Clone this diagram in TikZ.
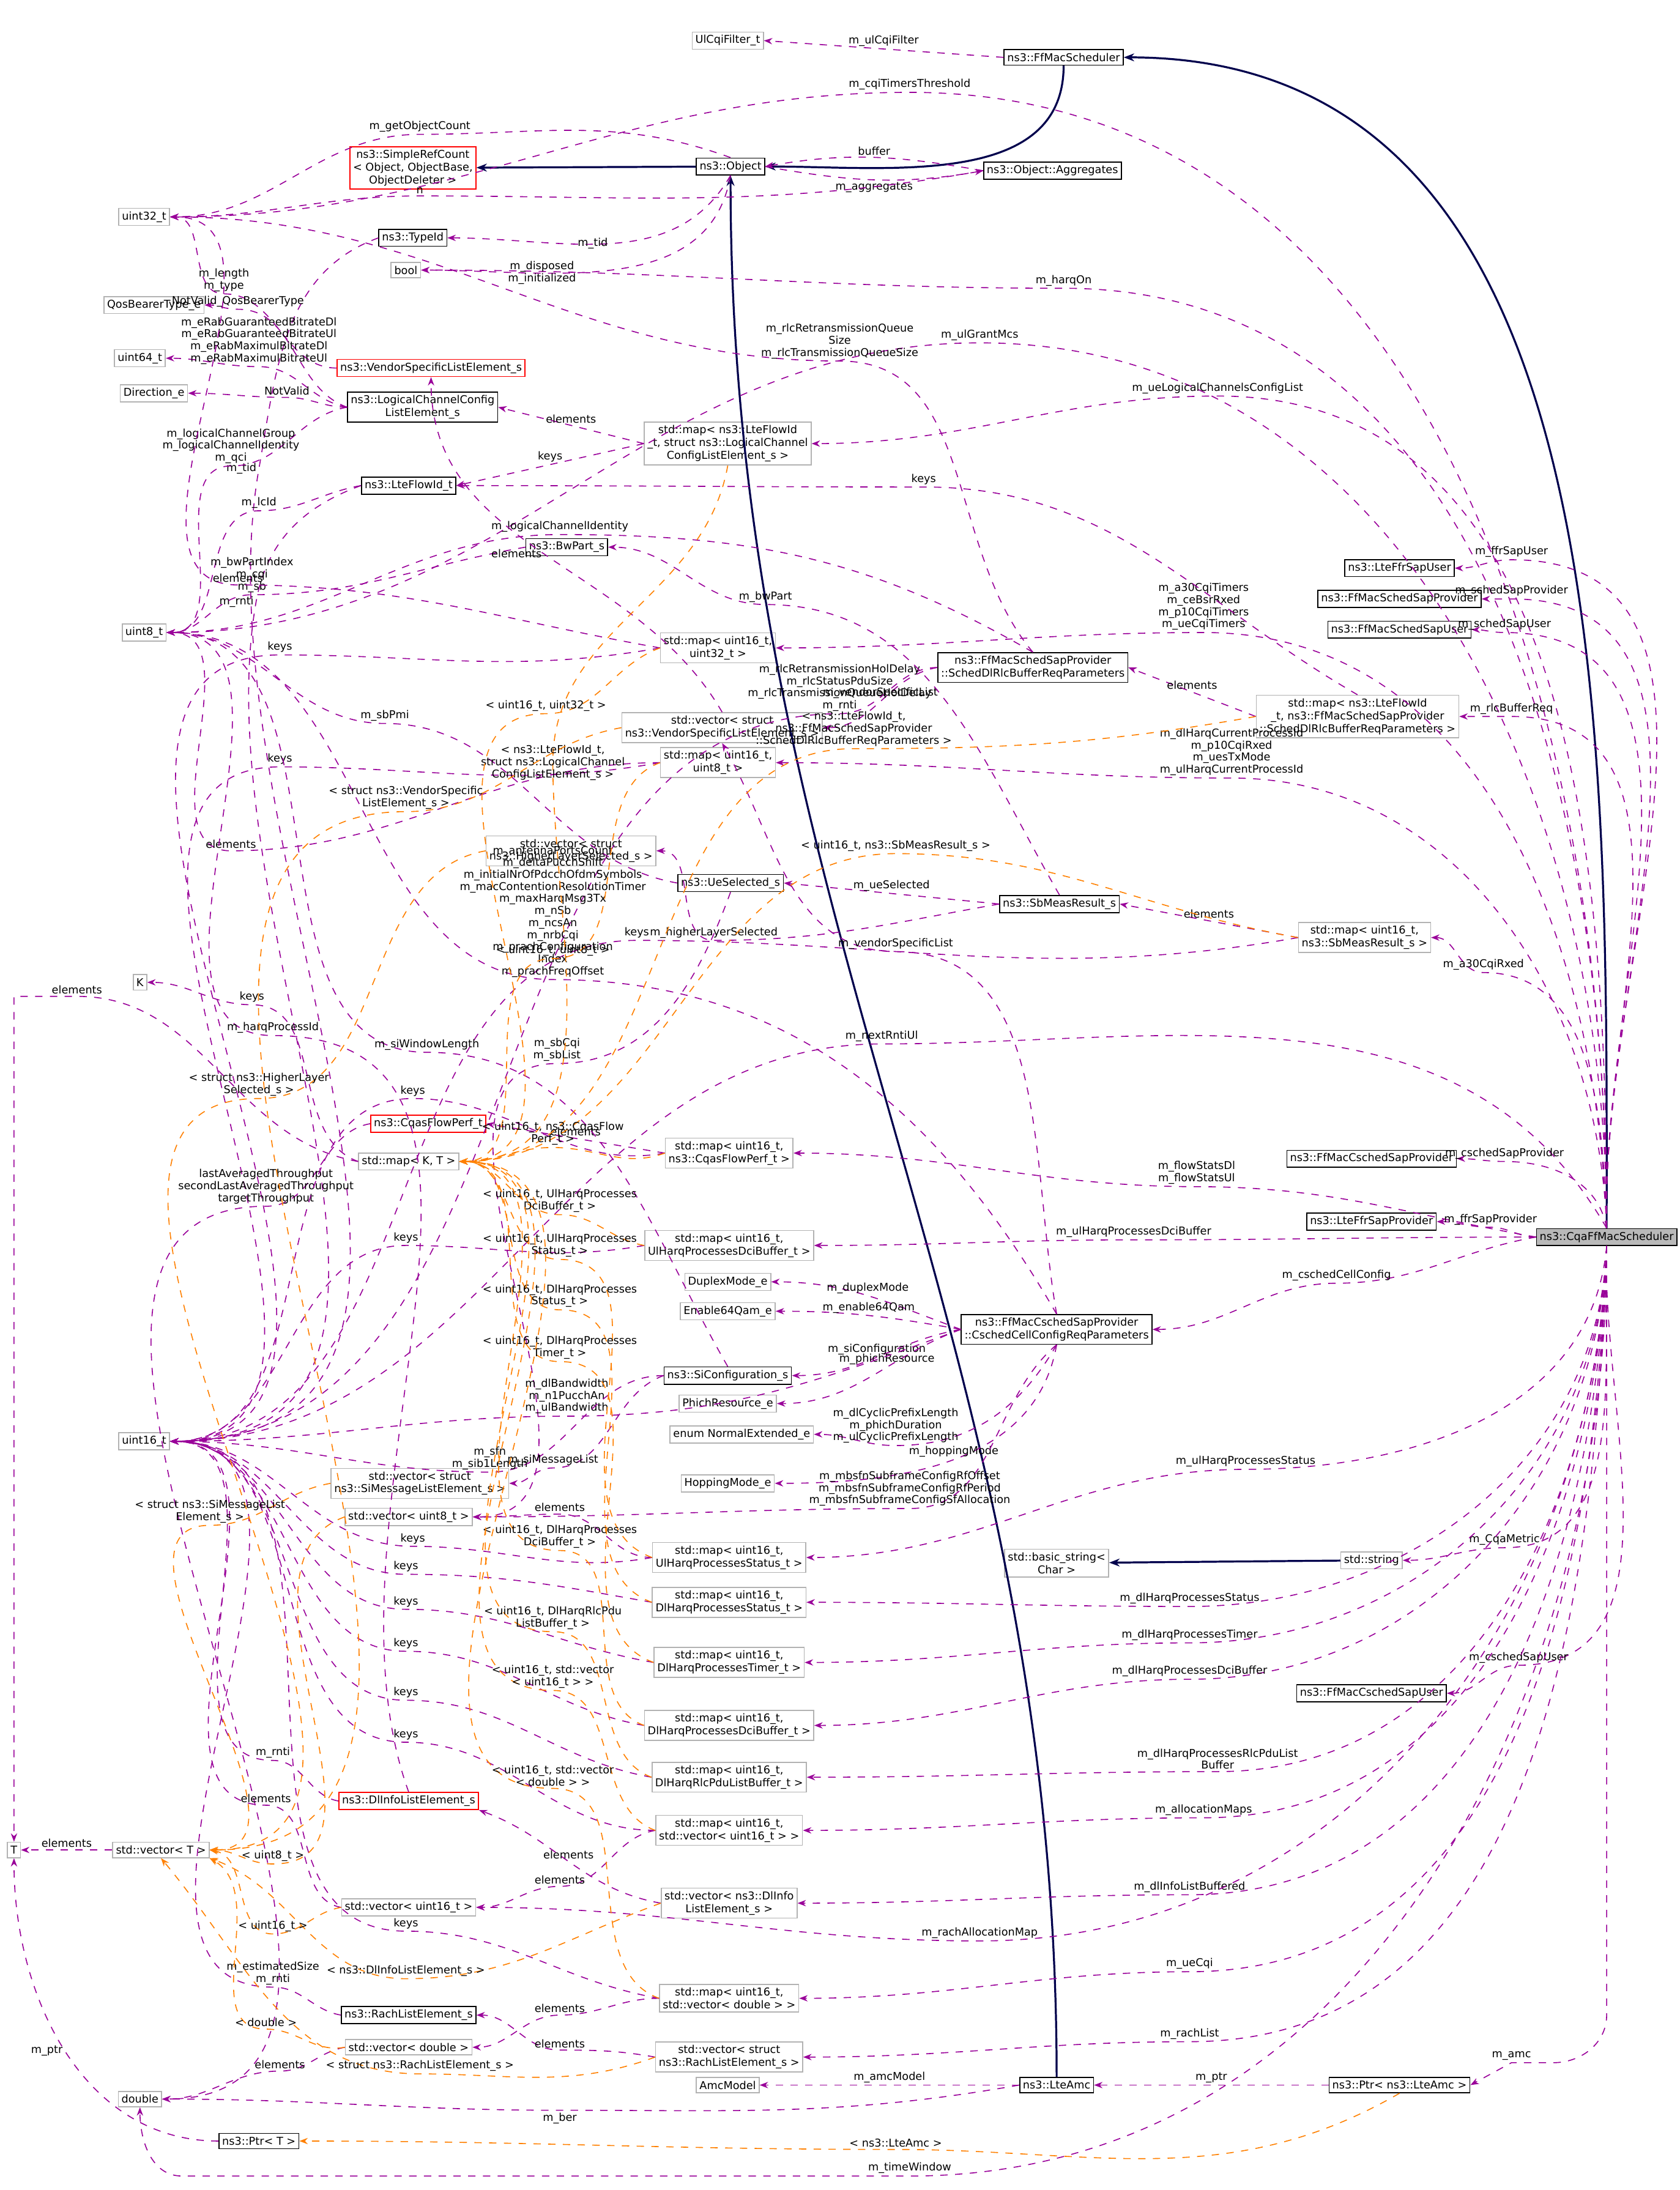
\documentclass[tikz,border=0pt]{standalone}
\usepackage{fontspec}
\setmainfont{DejaVu Sans}
\usetikzlibrary{arrows.meta}
\tikzset{
  box/.style = {rectangle, draw, align=center, inner sep=1.3pt, minimum height=0.22cm, font=\fontsize{4.4}{5.2}\selectfont},
  gnode/.style = {box, draw=gray!60},
  bnode/.style = {box, draw=black},
  rnode/.style = {box, draw=red},
  cnode/.style = {box, draw=black, fill=gray!55},
  dep/.style = {draw=violet!80!magenta, dashed, -{Stealth[length=1.2mm]}},
  inh/.style = {draw=blue!30!black, thick, -{Stealth[length=1.5mm]}},
  tmpl/.style = {draw=orange, dashed, -{Stealth[length=1.2mm]}},
  lbl/.style = {align=center, inner sep=0.8pt, font=\fontsize{4.4}{4.9}\selectfont, text=black},
}
\begin{document}
\begin{tikzpicture}[x=0.2mm, y=-0.2mm]
\useasboundingbox (0,0) rectangle (1200,1565);
% type nodes
\node [gnode] (ulcqi) at (520,29) {UlCqiFilter\_t};
\node [bnode] (ffmac) at (760,41) {ns3::FfMacScheduler};
\node [rnode] (srefc) at (295,120) {ns3::SimpleRefCount\\< Object, ObjectBase,\\ObjectDeleter >};
\node [bnode] (obj) at (522,119) {ns3::Object};
\node [bnode] (aggr) at (752,122) {ns3::Object::Aggregates};
\node [gnode] (u32) at (103,155) {uint32\_t};
\node [bnode] (tid) at (295,170) {ns3::TypeId};
\node [gnode] (bool) at (290,193) {bool};
\node [gnode] (qos) at (110,218) {QosBearerType\_e};
\node [gnode] (u64) at (100,256) {uint64\_t};
\node [gnode] (dir) at (110,281) {Direction\_e};
\node [rnode] (vsle) at (308,263) {ns3::VendorSpecificListElement\_s};
\node [bnode] (lcc) at (302,291) {ns3::LogicalChannelConfig\\ListElement\_s};
\node [gnode] (maplcc) at (520,317) {std::map< ns3::LteFlowId\\\_t, struct ns3::LogicalChannel\\ConfigListElement\_s >};
\node [bnode] (flow) at (292,347) {ns3::LteFlowId\_t};
\node [bnode] (bwp) at (405,391) {ns3::BwPart\_s};
\node [gnode] (u8) at (103,452) {uint8\_t};
\node [gnode] (m1632) at (513,463) {std::map< uint16\_t,\\uint32\_t >};
\node [bnode] (rlcreq) at (738,477) {ns3::FfMacSchedSapProvider\\::SchedDlRlcBufferReqParameters};
\node [gnode] (maprlc) at (970,512) {std::map< ns3::LteFlowId\\\_t, ns3::FfMacSchedSapProvider\\::SchedDlRlcBufferReqParameters >};
\node [gnode] (vvsle) at (516,520) {std::vector< struct\\ns3::VendorSpecificListElement\_s >};
\node [gnode] (m168) at (513,545) {std::map< uint16\_t,\\uint8\_t >};
\node [gnode] (vhls) at (408,608) {std::vector< struct\\ns3::HigherLayerSelected\_s >};
\node [bnode] (uesel) at (522,631) {ns3::UeSelected\_s};
\node [bnode] (sbm) at (757,646) {ns3::SbMeasResult\_s};
\node [gnode] (mapsb) at (975,670) {std::map< uint16\_t,\\ns3::SbMeasResult\_s >};
\node [bnode] (ffrusr) at (1000,406) {ns3::LteFfrSapUser};
\node [bnode] (sprov) at (1000,428) {ns3::FfMacSchedSapProvider};
\node [bnode] (suser) at (1000,450) {ns3::FfMacSchedSapUser};
\node [gnode] (K) at (100,702) {K};
\node [rnode] (cqas) at (306,803) {ns3::CqasFlowPerf\_t};
\node [gnode] (mapcqas) at (521,824) {std::map< uint16\_t,\\ns3::CqasFlowPerf\_t >};
\node [gnode] (mapKT) at (292,830) {std::map< K, T >};
\node [bnode] (cprov) at (980,828) {ns3::FfMacCschedSapProvider};
\node [bnode] (ffrprov) at (980,873) {ns3::LteFfrSapProvider};
\node [cnode] (cqa) at (1148,884) {ns3::CqaFfMacScheduler};
\node [gnode] (mulhdci) at (521,890) {std::map< uint16\_t,\\UlHarqProcessesDciBuffer\_t >};
\node [gnode] (dupl) at (520,916) {DuplexMode\_e};
\node [gnode] (e64) at (520,937) {Enable64Qam\_e};
\node [bnode] (cell) at (755,950) {ns3::FfMacCschedSapProvider\\::CschedCellConfigReqParameters};
\node [bnode] (sicfg) at (520,983) {ns3::SiConfiguration\_s};
\node [gnode] (phich) at (520,1003) {PhichResource\_e};
\node [gnode] (u16) at (103,1030) {uint16\_t};
\node [gnode] (normext) at (530,1025) {enum NormalExtended\_e};
\node [gnode] (vsim) at (300,1060) {std::vector< struct\\ns3::SiMessageListElement\_s >};
\node [gnode] (vu8) at (292,1084) {std::vector< uint8\_t >};
\node [gnode] (hop) at (520,1060) {HoppingMode\_e};
\node [gnode] (mulhst) at (521,1113) {std::map< uint16\_t,\\UlHarqProcessesStatus\_t >};
\node [gnode] (bstr) at (755,1117) {std::basic\_string<\\Char >};
\node [gnode] (str) at (980,1115) {std::string};
\node [gnode] (mdlhst) at (521,1145) {std::map< uint16\_t,\\DlHarqProcessesStatus\_t >};
\node [gnode] (mdlhtm) at (521,1188) {std::map< uint16\_t,\\DlHarqProcessesTimer\_t >};
\node [bnode] (cuser) at (980,1210) {ns3::FfMacCschedSapUser};
\node [gnode] (mdlhdci) at (521,1233) {std::map< uint16\_t,\\DlHarqProcessesDciBuffer\_t >};
\node [gnode] (mdlrlc) at (521,1270) {std::map< uint16\_t,\\DlHarqRlcPduListBuffer\_t >};
\node [rnode] (dlinfo) at (292,1287) {ns3::DlInfoListElement\_s};
\node [gnode] (T) at (10,1322) {T};
\node [gnode] (vecT) at (115,1322) {std::vector< T >};
\node [gnode] (mv16) at (521,1308) {std::map< uint16\_t,\\std::vector< uint16\_t > >};
\node [gnode] (vdlinfo) at (521,1360) {std::vector< ns3::DlInfo\\ListElement\_s >};
\node [gnode] (vu16) at (292,1363) {std::vector< uint16\_t >};
\node [gnode] (mvdbl) at (521,1428) {std::map< uint16\_t,\\std::vector< double > >};
\node [bnode] (rach) at (292,1440) {ns3::RachListElement\_s};
\node [gnode] (vdbl) at (292,1463) {std::vector< double >};
\node [gnode] (vrach) at (521,1470) {std::vector< struct\\ns3::RachListElement\_s >};
\node [gnode] (dbl) at (100,1500) {double};
\node [gnode] (amcm) at (520,1490) {AmcModel};
\node [bnode] (amc) at (755,1490) {ns3::LteAmc};
\node [bnode] (pamc) at (1000,1490) {ns3::Ptr< ns3::LteAmc >};
\node [bnode] (ptrT) at (185,1530) {ns3::Ptr< T >};
% inheritance
\draw [inh] (cqa.north) to[out=90,in=0] (ffmac.east);
\draw [inh] (ffmac.south) to[out=-90,in=0] (obj.east);
\draw [inh] (obj) -- (srefc);
\draw [inh] (amc.north) to[out=90,in=-90] (obj.south);
\draw [inh] (str) -- (bstr);
% members of the scheduler, upper part
\draw [dep] (cqa.north) to[out=90,in=0] (650,66) node[lbl,above]{m\_cqiTimersThreshold} to[out=180,in=0] (u32.east);
\draw [dep] (cqa.north) to[out=90,in=0] (760,206) node[lbl,above]{m\_harqOn} to[out=180,in=0] (bool.east);
\draw [dep] (cqa.north) to[out=90,in=0] (700,245) node[lbl,above]{m\_ulGrantMcs} to[out=180,in=0] (u8.east);
\draw [dep] (cqa.north) to[out=90,in=0] (870,283) node[lbl,above]{m\_ueLogicalChannelsConfigList} to[out=180,in=0] (maplcc.east);
\draw [dep] (cqa.north) to[out=92,in=0] (1080,400) node[lbl,above]{m\_ffrSapUser} to[out=180,in=0] (ffrusr.east);
\draw [dep] (cqa.north) to[out=92,in=0] (1080,428) node[lbl,above]{m\_schedSapProvider} to[out=180,in=0] (sprov.east);
\draw [dep] (cqa.north) to[out=92,in=0] (1075,452) node[lbl,above]{m\_schedSapUser} to[out=180,in=0] (suser.east);
\draw [dep] (cqa.north) to[out=92,in=0] (860,452) node[lbl,above]{m\_a30CqiTimers\\m\_ceBsrRxed\\m\_p10CqiTimers\\m\_ueCqiTimers} to[out=180,in=0] (m1632.east);
\draw [dep] (cqa.north) to[out=92,in=0] (1080,512) node[lbl,above]{m\_rlcBufferReq} to[out=180,in=0] (maprlc.east);
\draw [dep] (cqa.north) to[out=92,in=0] (880,556) node[lbl,above]{m\_dlHarqCurrentProcessId\\m\_p10CqiRxed\\m\_uesTxMode\\m\_ulHarqCurrentProcessId} to[out=180,in=0] (m168.east);
\draw [dep] (cqa.north) to[out=92,in=0] (1060,695) node[lbl,above]{m\_a30CqiRxed} to[out=180,in=0] (mapsb.east);
\draw [dep] (cqa.north) to[out=120,in=0] (630,746) node[lbl,above]{m\_nextRntiUl} to[out=180,in=0] (u16.east);
\draw [dep] (cqa.west) to[out=170,in=0] (855,848) node[lbl,above]{m\_flowStatsDl\\m\_flowStatsUl} to[out=180,in=0] (mapcqas.east);
\draw [dep] (cqa.north) to[out=100,in=0] (1075,830) node[lbl,above]{m\_cschedSapProvider} to[out=180,in=0] (cprov.east);
\draw [dep] (cqa.west) to[out=180,in=0] (1065,877) node[lbl,above]{m\_ffrSapProvider} to[out=180,in=0] (ffrprov.east);
\draw [dep] (cqa.west) to[out=180,in=0] (810,886) node[lbl,above]{m\_ulHarqProcessesDciBuffer} to[out=180,in=0] (mulhdci.east);
\draw [dep] (cqa.west) to[out=190,in=0] (955,917) node[lbl,above]{m\_cschedCellConfig} to[out=180,in=0] (cell.east);
% members of the scheduler, lower part
\draw [dep] (cqa.south) to[out=-95,in=0] (890,1050) node[lbl,above]{m\_ulHarqProcessesStatus} to[out=180,in=0] (mulhst.east);
\draw [dep] (cqa.south) to[out=-92,in=0] (1075,1106) node[lbl,above]{m\_CqaMetric} to[out=180,in=0] (str.east);
\draw [dep] (cqa.south) to[out=-92,in=0] (850,1148) node[lbl,above]{m\_dlHarqProcessesStatus} to[out=180,in=0] (mdlhst.east);
\draw [dep] (cqa.south) to[out=-92,in=0] (850,1174) node[lbl,above]{m\_dlHarqProcessesTimer} to[out=180,in=0] (mdlhtm.east);
\draw [dep] (cqa.south) to[out=-92,in=0] (1085,1190) node[lbl,above]{m\_cschedSapUser} to[out=180,in=0] (cuser.east);
\draw [dep] (cqa.south) to[out=-92,in=0] (850,1200) node[lbl,above]{m\_dlHarqProcessesDciBuffer} to[out=180,in=0] (mdlhdci.east);
\draw [dep] (cqa.south) to[out=-92,in=0] (870,1266) node[lbl,above]{m\_dlHarqProcessesRlcPduList\\Buffer} to[out=180,in=0] (mdlrlc.east);
\draw [dep] (cqa.south) to[out=-92,in=0] (860,1299) node[lbl,above]{m\_allocationMaps} to[out=180,in=0] (mv16.east);
\draw [dep] (cqa.south) to[out=-92,in=0] (850,1354) node[lbl,above]{m\_dlInfoListBuffered} to[out=180,in=0] (vdlinfo.east);
\draw [dep] (cqa.south) to[out=-92,in=0] (700,1387) node[lbl,above]{m\_rachAllocationMap} to[out=180,in=0] (vu16.east);
\draw [dep] (cqa.south) to[out=-92,in=0] (850,1409) node[lbl,above]{m\_ueCqi} to[out=180,in=0] (mvdbl.east);
\draw [dep] (cqa.south) to[out=-92,in=0] (850,1459) node[lbl,above]{m\_rachList} to[out=180,in=0] (vrach.east);
\draw [dep] (cqa.south) -- (1148,1440) to[out=-90,in=0] (1110,1474) -- (1080,1474) node[lbl,above]{m\_amc} -- (pamc.east);
\draw [dep] (cqa.south) to[out=-90,in=0] (650,1555) node[lbl,above]{m\_timeWindow} -- (130,1555) to[out=180,in=-90] (dbl.south);
% base classes and their members
\draw [dep] (ffmac.west) -- node[lbl,above]{m\_ulCqiFilter} (ulcqi.east);
\draw [dep] (obj.north) to[out=160,in=0] (300,96) node[lbl,above]{m\_getObjectCount} to[out=180,in=0] (u32.east);
\draw [dep] (obj.east) to[out=-10,in=190] node[lbl,pos=0.5,below]{m\_aggregates} (aggr.west);
\draw [dep] (aggr.west) to[out=170,in=10] node[lbl,pos=0.5,above]{buffer} (obj.east);
\draw [dep] (aggr.west) to[out=190,in=0] (300,140) node[lbl,above]{n} to[out=180,in=0] (u32.east);
\draw [dep] (obj.south) to[out=-120,in=0] node[lbl,pos=0.5,left]{m\_tid} (tid.east);
\draw [dep] (obj.south) to[out=-100,in=0] node[lbl,pos=0.6,left]{m\_disposed\\m\_initialized} (bool.east);
\draw [dep] (tid.west) to[out=200,in=80] (185,335) node[lbl,left]{m\_tid} to[out=-100,in=0] (u16.east);
\draw [dep] (vsle.west) to[out=180,in=0] (160,210) node[lbl,above]{m\_length\\m\_type} to[out=180,in=0] (u32.east);
\draw [dep] (lcc.west) to[out=160,in=0] (170,221) node[lbl,above]{NotValid\_QosBearerType} to[out=180,in=0] (qos.east);
\draw [dep] (lcc.west) to[out=170,in=0] (185,262) node[lbl,above]{m\_eRabGuaranteedBitrateDl\\m\_eRabGuaranteedBitrateUl\\m\_eRabMaximulBitrateDl\\m\_eRabMaximulBitrateUl} to[out=180,in=0] (u64.east);
\draw [dep] (lcc.west) to[out=180,in=0] (205,284) node[lbl,above]{NotValid} to[out=180,in=0] (dir.east);
\draw [dep] (lcc.west) to[out=190,in=0] (165,333) node[lbl,above]{m\_logicalChannelGroup\\m\_logicalChannelIdentity\\m\_qci} to[out=180,in=0] (u8.east);
\draw [dep] (maplcc.west) -- node[lbl,above]{elements} (lcc.east);
\draw [dep] (maplcc.west) -- node[lbl,above]{keys} (flow.east);
\draw [dep] (flow.west) to[out=190,in=0] (185,365) node[lbl,above]{m\_lcId} to[out=180,in=0] (u8.east);
\draw [dep] (flow.west) to[out=200,in=80] (183,430) node[lbl,left]{m\_rnti} to[out=-100,in=0] (u16.east);
\draw [dep] (bwp.west) to[out=190,in=0] (180,425) node[lbl,above]{m\_bwPartIndex\\m\_cqi\\m\_sb} to[out=180,in=0] (u8.east);
\draw [dep] (rlcreq.north) to[out=130,in=0] (600,258) node[lbl,above]{m\_rlcRetransmissionQueue\\Size\\m\_rlcTransmissionQueueSize} to[out=180,in=0] (u32.east);
\draw [dep] (rlcreq.west) to[out=180,in=0] (600,510) node[lbl,above]{m\_rlcRetransmissionHolDelay\\m\_rlcStatusPduSize\\m\_rlcTransmissionQueueHolDelay\\m\_rnti} to[out=180,in=0] (u16.east);
\draw [dep] (rlcreq.north) to[out=150,in=0] (400,382) node[lbl,above]{m\_logicalChannelIdentity} to[out=180,in=0] (u8.east);
\draw [dep] (rlcreq.west) to[out=190,in=0] node[lbl,pos=0.5,above]{m\_vendorSpecificList} (vvsle.east);
\draw [dep] (maprlc.west) -- node[lbl,above]{elements} (rlcreq.east);
\draw [dep] (maprlc.north) to[out=150,in=0] (660,348) node[lbl,above]{keys} to[out=180,in=0] (flow.east);
\draw [dep] (m1632.west) to[out=170,in=0] (170,418) node[lbl,above]{elements} to[out=180,in=0] (u32.east);
\draw [dep] (m1632.west) to[out=190,in=0] (200,468) node[lbl,above]{keys} to[out=180,in=0] (u16.east);
\draw [dep] (vvsle.north) to[out=120,in=-90] node[lbl,pos=0.5,left]{elements} (vsle.south);
\draw [dep] (m168.west) to[out=180,in=0] (165,608) node[lbl,above]{elements} to[out=180,in=0] (u8.east);
\draw [dep] (m168.west) to[out=190,in=0] (200,548) node[lbl,above]{keys} to[out=180,in=0] (u16.east);
\draw [dep] (uesel.west) to[out=170,in=0] (275,517) node[lbl,above]{m\_sbPmi} to[out=180,in=0] (u8.east);
\draw [dep] (uesel.south) to[out=-110,in=0] (398,760) node[lbl,above]{m\_sbCqi\\m\_sbList} to[out=180,in=0] (vu8.east);
\draw [dep] (sbm.west) -- node[lbl,above]{m\_ueSelected} (uesel.east);
\draw [dep] (sbm.north) to[out=120,in=0] (547,432) node[lbl,above]{m\_bwPart} to[out=180,in=0] (bwp.east);
\draw [dep] (sbm.west) to[out=190,in=0] (510,672) node[lbl,above]{m\_higherLayerSelected} to[out=180,in=0] (vhls.east);
\draw [dep] (mapsb.west) -- node[lbl,above]{elements} (sbm.east);
\draw [dep] (mapsb.west) to[out=190,in=0] (455,672) node[lbl,above]{keys} to[out=180,in=0] (u16.east);
\draw [dep] (cqas.west) to[out=190,in=0] (190,862) node[lbl,above]{lastAveragedThroughput\\secondLastAveragedThroughput\\targetThroughput} to[out=180,in=0] (dbl.east);
\draw [dep] (mapcqas.west) -- node[lbl,above]{elements} (cqas.east);
\draw [dep] (mapcqas.west) to[out=190,in=0] (295,785) node[lbl,above]{keys} to[out=180,in=0] (u16.east);
\draw [dep] (mapKT.west) to[out=160,in=0] (180,718) node[lbl,above]{keys} to[out=180,in=0] (K.east);
\draw [dep] (mapKT.west) to[out=170,in=0] (55,712) node[lbl,above]{elements} -- (10,712) -- (T.north);
\draw [dep] (vecT.west) -- node[lbl,above]{elements} (T.east);
\draw [dep] (ptrT.west) to[out=180,in=-90] node[lbl,pos=0.5,left]{m\_ptr} (T.south);
% cell configuration
\draw [dep] (cell.west) to[out=160,in=0] node[lbl,pos=0.5,above]{m\_duplexMode} (dupl.east);
\draw [dep] (cell.west) to[out=170,in=0] node[lbl,pos=0.5,above]{m\_enable64Qam} (e64.east);
\draw [dep] (cell.west) to[out=190,in=0] node[lbl,pos=0.5,above]{m\_siConfiguration} (sicfg.east);
\draw [dep] (cell.west) to[out=200,in=0] node[lbl,pos=0.4,above]{m\_phichResource} (phich.east);
\draw [dep] (cell.south) to[out=-120,in=0] (640,1033) node[lbl,above]{m\_dlCyclicPrefixLength\\m\_phichDuration\\m\_ulCyclicPrefixLength} to[out=180,in=0] (normext.east);
\draw [dep] (cell.south) to[out=-100,in=0] node[lbl,pos=0.5,above]{m\_hoppingMode} (hop.east);
\draw [dep] (cell.north) to[out=120,in=0] (395,700) node[lbl,above]{m\_antennaPortsCount\\m\_deltaPucchShift\\m\_initialNrOfPdcchOfdmSymbols\\m\_macContentionResolutionTimer\\m\_maxHarqMsg3Tx\\m\_nSb\\m\_ncsAn\\m\_nrbCqi\\m\_prachConfiguration\\Index\\m\_prachFreqOffset} to[out=180,in=0] (u8.east);
\draw [dep] (cell.west) to[out=200,in=0] (405,1012) node[lbl,above]{m\_dlBandwidth\\m\_n1PucchAn\\m\_ulBandwidth} to[out=180,in=0] (u16.east);
\draw [dep] (cell.south) to[out=-140,in=0] (650,1078) node[lbl,above]{m\_mbsfnSubframeConfigRfOffset\\m\_mbsfnSubframeConfigRfPeriod\\m\_mbsfnSubframeConfigSfAllocation} to[out=180,in=0] (vu8.east);
\draw [dep] (cell.north) to[out=100,in=0] (640,680) node[lbl,above]{m\_vendorSpecificList} to[out=180,in=-60] (vvsle.south);
\draw [dep] (sicfg.west) to[out=180,in=0] (350,1052) node[lbl,above]{m\_sfn\\m\_sib1Length} to[out=180,in=0] (u16.east);
\draw [dep] (sicfg.north) to[out=120,in=0] (305,752) node[lbl,above]{m\_siWindowLength} to[out=180,in=0] (u8.east);
\draw [dep] (sicfg.west) to[out=200,in=0] (395,1049) node[lbl,above]{m\_siMessageList} to[out=180,in=0] (vsim.east);
% harq maps and vectors
\draw [dep] (mulhdci.west) to[out=190,in=0] (290,890) node[lbl,above]{keys} to[out=180,in=0] (u16.east);
\draw [dep] (mulhst.west) to[out=180,in=0] (400,1082) node[lbl,above]{elements} to[out=180,in=0] (vu8.east);
\draw [dep] (mulhst.west) to[out=190,in=0] (295,1105) node[lbl,above]{keys} to[out=180,in=0] (u16.east);
\draw [dep] (mdlhst.west) to[out=170,in=0] (290,1125) node[lbl,above]{keys} to[out=180,in=0] (u16.east);
\draw [dep] (mdlhtm.west) to[out=170,in=0] (290,1150) node[lbl,above]{keys} to[out=180,in=0] (u16.east);
\draw [dep] (mdlhdci.west) to[out=170,in=0] (290,1180) node[lbl,above]{keys} to[out=180,in=0] (u16.east);
\draw [dep] (mdlrlc.west) to[out=170,in=0] (290,1215) node[lbl,above]{keys} to[out=180,in=0] (u16.east);
\draw [dep] (dlinfo.west) to[out=170,in=0] (195,1258) node[lbl,above]{m\_rnti} to[out=180,in=0] (u16.east);
\draw [dep] (dlinfo.north) to[out=110,in=0] (195,740) node[lbl,above]{m\_harqProcessId} to[out=180,in=0] (u8.east);
\draw [dep] (mv16.west) to[out=190,in=0] (400,1348) node[lbl,above]{elements} to[out=180,in=0] (vu16.east);
\draw [dep] (mv16.west) to[out=180,in=0] (290,1245) node[lbl,above]{keys} to[out=180,in=0] (u16.east);
\draw [dep] (vdlinfo.west) to[out=170,in=-20] node[lbl,pos=0.5,above]{elements} (dlinfo.south east);
\draw [dep] (vu16.west) to[out=170,in=0] (190,1290) node[lbl,above]{elements} to[out=180,in=0] (u16.east);
\draw [dep] (mvdbl.west) to[out=180,in=0] (400,1440) node[lbl,above]{elements} to[out=180,in=0] (vdbl.east);
\draw [dep] (mvdbl.west) to[out=170,in=0] (290,1380) node[lbl,above]{keys} to[out=180,in=0] (u16.east);
\draw [dep] (rach.west) to[out=170,in=0] (195,1420) node[lbl,above]{m\_estimatedSize\\m\_rnti} to[out=180,in=0] (u16.east);
\draw [dep] (vdbl.west) to[out=190,in=0] (200,1480) node[lbl,above]{elements} to[out=180,in=0] (dbl.east);
\draw [dep] (vrach.west) to[out=170,in=0] (400,1465) node[lbl,above]{elements} to[out=180,in=0] (rach.east);
\draw [dep] (amc.west) -- node[lbl,above]{m\_amcModel} (amcm.east);
\draw [dep] (amc.west) to[out=190,in=0] (400,1508) node[lbl,below]{m\_ber} to[out=180,in=0] (dbl.east);
\draw [dep] (pamc.west) -- node[lbl,above]{m\_ptr} (amc.east);
% template instances
\draw [tmpl] (maplcc.south) to[out=-100,in=90] (395,545) node[lbl]{< ns3::LteFlowId\_t,\\struct ns3::LogicalChannel\\ConfigListElement\_s >} to[out=-90,in=0] (mapKT.east);
\draw [tmpl] (maprlc.west) to[out=190,in=0] (610,535) node[lbl,above]{< ns3::LteFlowId\_t,\\ns3::FfMacSchedSapProvider\\::SchedDlRlcBufferReqParameters >} to[out=180,in=0] (mapKT.east);
\draw [tmpl] (m1632.west) to[out=200,in=0] (390,510) node[lbl,above]{< uint16\_t, uint32\_t >} to[out=180,in=0] (mapKT.east);
\draw [tmpl] (m168.west) to[out=200,in=0] (395,685) node[lbl,above]{< uint16\_t, uint8\_t >} to[out=180,in=0] (mapKT.east);
\draw [tmpl] (mapsb.west) to[out=170,in=0] (640,610) node[lbl,above]{< uint16\_t, ns3::SbMeasResult\_s >} to[out=180,in=0] (mapKT.east);
\draw [tmpl] (mapcqas.west) to[out=200,in=0] (395,820) node[lbl,above]{< uint16\_t, ns3::CqasFlow\\Perf\_t >} to[out=180,in=0] (mapKT.east);
\draw [tmpl] (mulhdci.west) to[out=170,in=0] (400,868) node[lbl,above]{< uint16\_t, UlHarqProcesses\\DciBuffer\_t >} to[out=180,in=0] (mapKT.east);
\draw [tmpl] (mulhst.west) to[out=160,in=0] (400,900) node[lbl,above]{< uint16\_t, UlHarqProcesses\\Status\_t >} to[out=180,in=0] (mapKT.east);
\draw [tmpl] (mdlhst.west) to[out=160,in=0] (400,936) node[lbl,above]{< uint16\_t, DlHarqProcesses\\Status\_t >} to[out=180,in=0] (mapKT.east);
\draw [tmpl] (mdlhtm.west) to[out=160,in=0] (400,973) node[lbl,above]{< uint16\_t, DlHarqProcesses\\Timer\_t >} to[out=180,in=0] (mapKT.east);
\draw [tmpl] (mdlhdci.west) to[out=160,in=0] (400,1108) node[lbl,above]{< uint16\_t, DlHarqProcesses\\DciBuffer\_t >} to[out=180,in=0] (mapKT.east);
\draw [tmpl] (mdlrlc.west) to[out=160,in=0] (395,1166) node[lbl,above]{< uint16\_t, DlHarqRlcPdu\\ListBuffer\_t >} to[out=180,in=0] (mapKT.east);
\draw [tmpl] (mv16.west) to[out=160,in=0] (395,1208) node[lbl,above]{< uint16\_t, std::vector\\< uint16\_t > >} to[out=180,in=0] (mapKT.east);
\draw [tmpl] (mvdbl.west) to[out=160,in=0] (395,1278) node[lbl,above]{< uint16\_t, std::vector\\< double > >} to[out=180,in=0] (mapKT.east);
\draw [tmpl] (vvsle.west) to[out=190,in=0] (290,580) node[lbl,above]{< struct ns3::VendorSpecific\\ListElement\_s >} to[out=180,in=0] (vecT.east);
\draw [tmpl] (vhls.west) to[out=190,in=0] (185,785) node[lbl,above]{< struct ns3::HigherLayer\\Selected\_s >} to[out=180,in=0] (vecT.east);
\draw [tmpl] (vsim.west) to[out=190,in=0] (150,1090) node[lbl,above]{< struct ns3::SiMessageList\\Element\_s >} to[out=180,in=0] (vecT.east);
\draw [tmpl] (vu8.west) to[out=200,in=0] (195,1332) node[lbl,above]{< uint8\_t >} to[out=180,in=0] (vecT.east);
\draw [tmpl] (vdlinfo.west) to[out=200,in=0] (290,1414) node[lbl,above]{< ns3::DlInfoListElement\_s >} to[out=180,in=-20] (vecT.south east);
\draw [tmpl] (vu16.west) to[out=190,in=0] (195,1382) node[lbl,above]{< uint16\_t >} to[out=180,in=-10] (vecT.east);
\draw [tmpl] (vdbl.west) to[out=190,in=0] (190,1450) node[lbl,above]{< double >} to[out=180,in=-30] (vecT.south east);
\draw [tmpl] (vrach.west) to[out=200,in=0] (300,1482) node[lbl,above]{< struct ns3::RachListElement\_s >} to[out=180,in=-50] (vecT.south);
\draw [tmpl] (pamc.south) to[out=-150,in=0] (640,1536) node[lbl,above]{< ns3::LteAmc >} to[out=180,in=0] (ptrT.east);
\end{tikzpicture}
\end{document}
